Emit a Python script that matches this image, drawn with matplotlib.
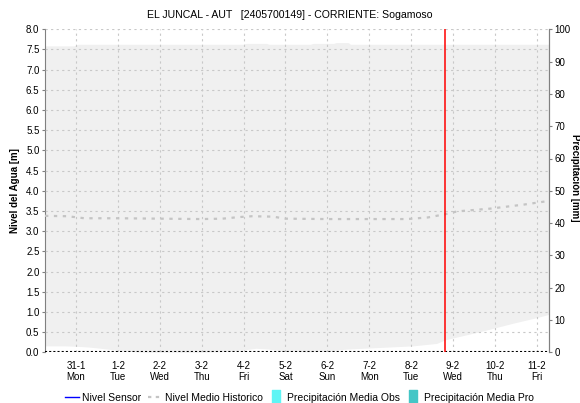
import numpy as np
import matplotlib
matplotlib.use('Agg')
import matplotlib.pyplot as plt
from matplotlib.lines import Line2D

plt.rcParams['font.family'] = ['Liberation Sans', 'DejaVu Sans']

# days counted from 31-1 00:00
day_ticks = [0, 1, 2, 3, 4, 5, 6, 7, 8, 9, 10, 11]
day_labels = ['31-1\nMon', '1-2\nTue', '2-2\nWed', '3-2\nThu', '4-2\nFri', '5-2\nSat',
              '6-2\nSun', '7-2\nMon', '8-2\nTue', '9-2\nWed', '10-2\nThu', '11-2\nFri']

# historical band (upper / lower)
band_x = [-0.74, -0.05, 0.05, 1.0, 2.0, 3.0, 4.0, 4.05, 4.55, 4.6, 5.6, 5.65,
          6.15, 6.2, 6.5, 6.55, 7.0, 8.0, 9.0, 10.0, 11.0, 11.29]
band_hi = [7.59, 7.59, 7.63, 7.63, 7.63, 7.63, 7.63, 7.65, 7.65, 7.63, 7.63, 7.65,
           7.65, 7.67, 7.67, 7.63, 7.63, 7.63, 7.63, 7.63, 7.63, 7.63]
low_x = [-0.74, -0.3, 0.0, 0.3, 0.5, 0.75, 1.0, 1.3, 1.6, 2.0, 3.0, 3.6, 4.0, 4.3,
         4.6, 4.87, 5.5, 6.0, 6.46, 7.26, 8.05, 8.61, 8.81, 9.64, 10.43, 11.0, 11.29]
low_val = [0.16, 0.16, 0.15, 0.13, 0.11, 0.08, 0.05, 0.02, 0.0, 0.0, 0.0, 0.02, 0.06, 0.1,
           0.08, 0.04, 0.01, 0.03, 0.08, 0.12, 0.16, 0.22, 0.31, 0.51, 0.72, 0.86, 0.94]

# nivel medio historico
mean_x = [-0.74, -0.2, 0.2, 1.0, 2.0, 3.0, 3.5, 3.9, 4.2, 4.7, 5.0, 6.0, 7.0, 7.9,
          8.4, 8.81, 9.1, 9.9, 10.7, 11.29]
mean_val = [3.38, 3.37, 3.32, 3.32, 3.31, 3.30, 3.31, 3.35, 3.37, 3.36, 3.31, 3.30,
            3.30, 3.30, 3.34, 3.42, 3.49, 3.56, 3.66, 3.75]

now_x = 8.81
fs = 7

fig = plt.figure(figsize=(5.8, 4.03), dpi=100)
ax = fig.add_axes([45/580, 1-352.3/403, (549-45)/580, (352.3-29.3)/403])

xx = np.union1d(band_x, low_x)
ax.fill_between(xx, np.interp(xx, low_x, low_val), np.interp(xx, band_x, band_hi),
                color='#f0f0f0', lw=0, zorder=1)
ax.plot(mean_x, mean_val, color='#c4c4c4', lw=1.6, ls=(0, (1.5, 2.5)), zorder=3)
ax.plot([-0.74, 11.29], [0, 0], color='black', lw=1.5, ls=(0, (1, 1)), zorder=4)
ax.axvline(now_x, color='#ff0000', lw=1.1, zorder=6)

ax.set_xlim(-0.74, 11.29)
ax.set_ylim(0, 8)
ax.set_yticks(np.arange(0, 8.01, 0.5))
ax.set_yticklabels(['%.1f' % v for v in np.arange(0, 8.01, 0.5)], fontsize=fs)
ax.set_xticks(day_ticks)
ax.set_xticklabels(day_labels, fontsize=fs)
ax.grid(True, color='#c8c8c8', ls=(0, (2, 3)), lw=0.8, zorder=2)
ax.set_axisbelow(False)
for s in ['top', 'bottom']:
    ax.spines[s].set_visible(False)
for s in ['left', 'right']:
    ax.spines[s].set_color('#808080')
ax.tick_params(axis='y', length=2, color='#808080', pad=2)
ax.tick_params(axis='x', length=0, pad=6)
ax.set_ylabel('Nivel del Agua [m]', fontsize=fs, fontweight='bold', labelpad=4)

ax2 = ax.twinx()
ax2.set_ylim(0, 100)
ax2.set_yticks(np.arange(0, 101, 10))
ax2.set_yticklabels([str(v) for v in range(0, 101, 10)], fontsize=fs)
ax2.tick_params(axis='y', length=2, color='#808080', pad=2)
for s in ['top', 'bottom', 'left']:
    ax2.spines[s].set_visible(False)
ax2.spines['right'].set_color('#808080')
fig.text(575/580, 0.56, 'Precipitación [mm]', rotation=270, fontsize=fs,
         fontweight='bold', ha='center', va='center')

fig.suptitle('EL JUNCAL - AUT   [2405700149] - CORRIENTE: Sogamoso', fontsize=7.6,
             y=1-15/403, va='center')

rect = [(-0.55, -1), (0.55, -1), (0.55, 1), (-0.55, 1), (-0.55, -1)]
handles = [Line2D([], [], color='blue', lw=1),
           Line2D([], [], color='#c4c4c4', lw=1.6, ls=(0, (1.5, 2))),
           Line2D([], [], ls='', marker=rect, markersize=10, color='#5ff5f5'),
           Line2D([], [], ls='', marker=rect, markersize=10, color='#44c6c6')]
labels = ['Nivel Sensor', 'Nivel Medio Historico', 'Precipitación Media Obs',
          'Precipitación Media Pro']
fig.legend(handles, labels, loc='center', bbox_to_anchor=(0.516, 1-398/403), ncol=4,
           frameon=False, fontsize=7.5, handlelength=1.35, handletextpad=0.35,
           columnspacing=0.6)

plt.savefig('out.png', dpi=100)
plt.close()
